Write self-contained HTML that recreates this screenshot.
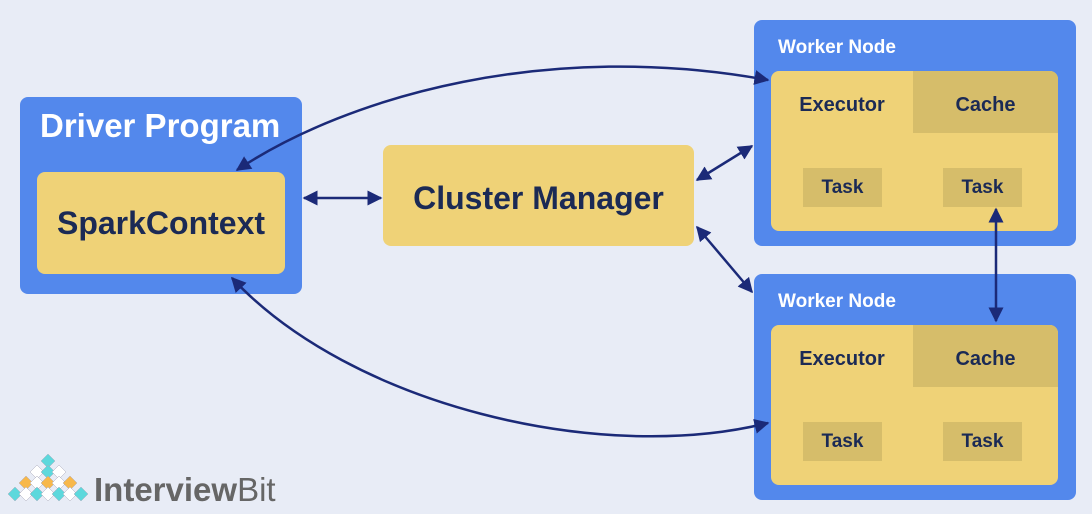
<!DOCTYPE html>
<html><head><meta charset="utf-8"><style>
*{margin:0;padding:0;box-sizing:border-box}
body{width:1092px;height:514px;background:#e8ecf6;position:relative;overflow:hidden;font-family:"Liberation Sans",sans-serif;font-weight:bold}
.b{position:absolute;background:#5388ec;border-radius:8px}
.y{position:absolute;background:#efd277;border-radius:8px;overflow:hidden}
.t{position:absolute;color:#1b2a55;text-align:center}
.w{position:absolute;color:#fff}
.d{position:absolute;background:#d6bd6a}
</style></head><body>
<div class="b" style="left:20px;top:97px;width:282px;height:197px"></div>
<div class="w" style="left:40px;top:107px;font-size:33px">Driver Program</div>
<div class="y" style="left:37px;top:172px;width:248px;height:102px"></div>
<div class="t" style="left:37px;top:205px;width:248px;font-size:32px">SparkContext</div>
<div class="y" style="left:383px;top:145px;width:311px;height:101px"></div>
<div class="t" style="left:383px;top:180px;width:311px;font-size:32px">Cluster Manager</div>

<div class="b" style="left:754px;top:20px;width:322px;height:226px"></div>
<div class="w" style="left:778px;top:37px;font-size:19px">Worker Node</div>
<div class="y" style="left:771px;top:71px;width:287px;height:160px"><div class="d" style="left:142px;top:0;width:145px;height:62px"></div><div class="d" style="left:32px;top:97px;width:79px;height:39px"></div><div class="d" style="left:172px;top:97px;width:79px;height:39px"></div></div>
<div class="t" style="left:771px;top:94px;width:142px;font-size:20px">Executor</div>
<div class="t" style="left:913px;top:94px;width:145px;font-size:20px">Cache</div>
<div class="t" style="left:803px;top:177px;width:79px;font-size:19px">Task</div>
<div class="t" style="left:943px;top:177px;width:79px;font-size:19px">Task</div>

<div class="b" style="left:754px;top:274px;width:322px;height:226px"></div>
<div class="w" style="left:778px;top:291px;font-size:19px">Worker Node</div>
<div class="y" style="left:771px;top:325px;width:287px;height:160px"><div class="d" style="left:142px;top:0;width:145px;height:62px"></div><div class="d" style="left:32px;top:97px;width:79px;height:39px"></div><div class="d" style="left:172px;top:97px;width:79px;height:39px"></div></div>
<div class="t" style="left:771px;top:348px;width:142px;font-size:20px">Executor</div>
<div class="t" style="left:913px;top:348px;width:145px;font-size:20px">Cache</div>
<div class="t" style="left:803px;top:431px;width:79px;font-size:19px">Task</div>
<div class="t" style="left:943px;top:431px;width:79px;font-size:19px">Task</div>

<svg width="1092" height="514" style="position:absolute;left:0;top:0">
<defs><marker id="a" viewBox="0 0 10 10" refX="9" refY="5" markerWidth="6" markerHeight="6" orient="auto-start-reverse"><path d="M0 0L10 5L0 10z" fill="#1b2a78"/></marker></defs>
<g stroke="#1b2a78" stroke-width="2.5" fill="none">
<path d="M237 170C350 95 550 40 768 80" marker-start="url(#a)" marker-end="url(#a)"/>
<path d="M232 278C350 405 600 465 768 423" marker-start="url(#a)" marker-end="url(#a)"/>
<path d="M304 198L381 198" marker-start="url(#a)" marker-end="url(#a)"/>
<path d="M697 180L752 146" marker-start="url(#a)" marker-end="url(#a)"/>
<path d="M697 227L752 292" marker-start="url(#a)" marker-end="url(#a)"/>
<path d="M996 209L996 321" marker-start="url(#a)" marker-end="url(#a)"/>
</g>
<g stroke="#aab" stroke-width="0.5">
<polygon points="48,454 55,461 48,468 41,461" fill="#5dd8dc"/>
<polygon points="37,465 44,472 37,479 30,472" fill="#fff"/>
<polygon points="48,465 55,472 48,479 41,472" fill="#5dd8dc"/>
<polygon points="59,465 66,472 59,479 52,472" fill="#fff"/>
<polygon points="26,476 33,483 26,490 19,483" fill="#f7b84b"/>
<polygon points="37,476 44,483 37,490 30,483" fill="#fff"/>
<polygon points="48,476 55,483 48,490 41,483" fill="#f7b84b"/>
<polygon points="59,476 66,483 59,490 52,483" fill="#fff"/>
<polygon points="70,476 77,483 70,490 63,483" fill="#f7b84b"/>
<polygon points="15,487 22,494 15,501 8,494" fill="#5dd8dc"/>
<polygon points="26,487 33,494 26,501 19,494" fill="#fff"/>
<polygon points="37,487 44,494 37,501 30,494" fill="#5dd8dc"/>
<polygon points="48,487 55,494 48,501 41,494" fill="#fff"/>
<polygon points="59,487 66,494 59,501 52,494" fill="#5dd8dc"/>
<polygon points="70,487 77,494 70,501 63,494" fill="#fff"/>
<polygon points="81,487 88,494 81,501 74,494" fill="#5dd8dc"/>
</g>
<text x="94" y="501" font-family="Liberation Sans" font-size="33" fill="#666" font-weight="bold">Interview<tspan font-weight="normal">Bit</tspan></text>
</svg>
</body></html>
